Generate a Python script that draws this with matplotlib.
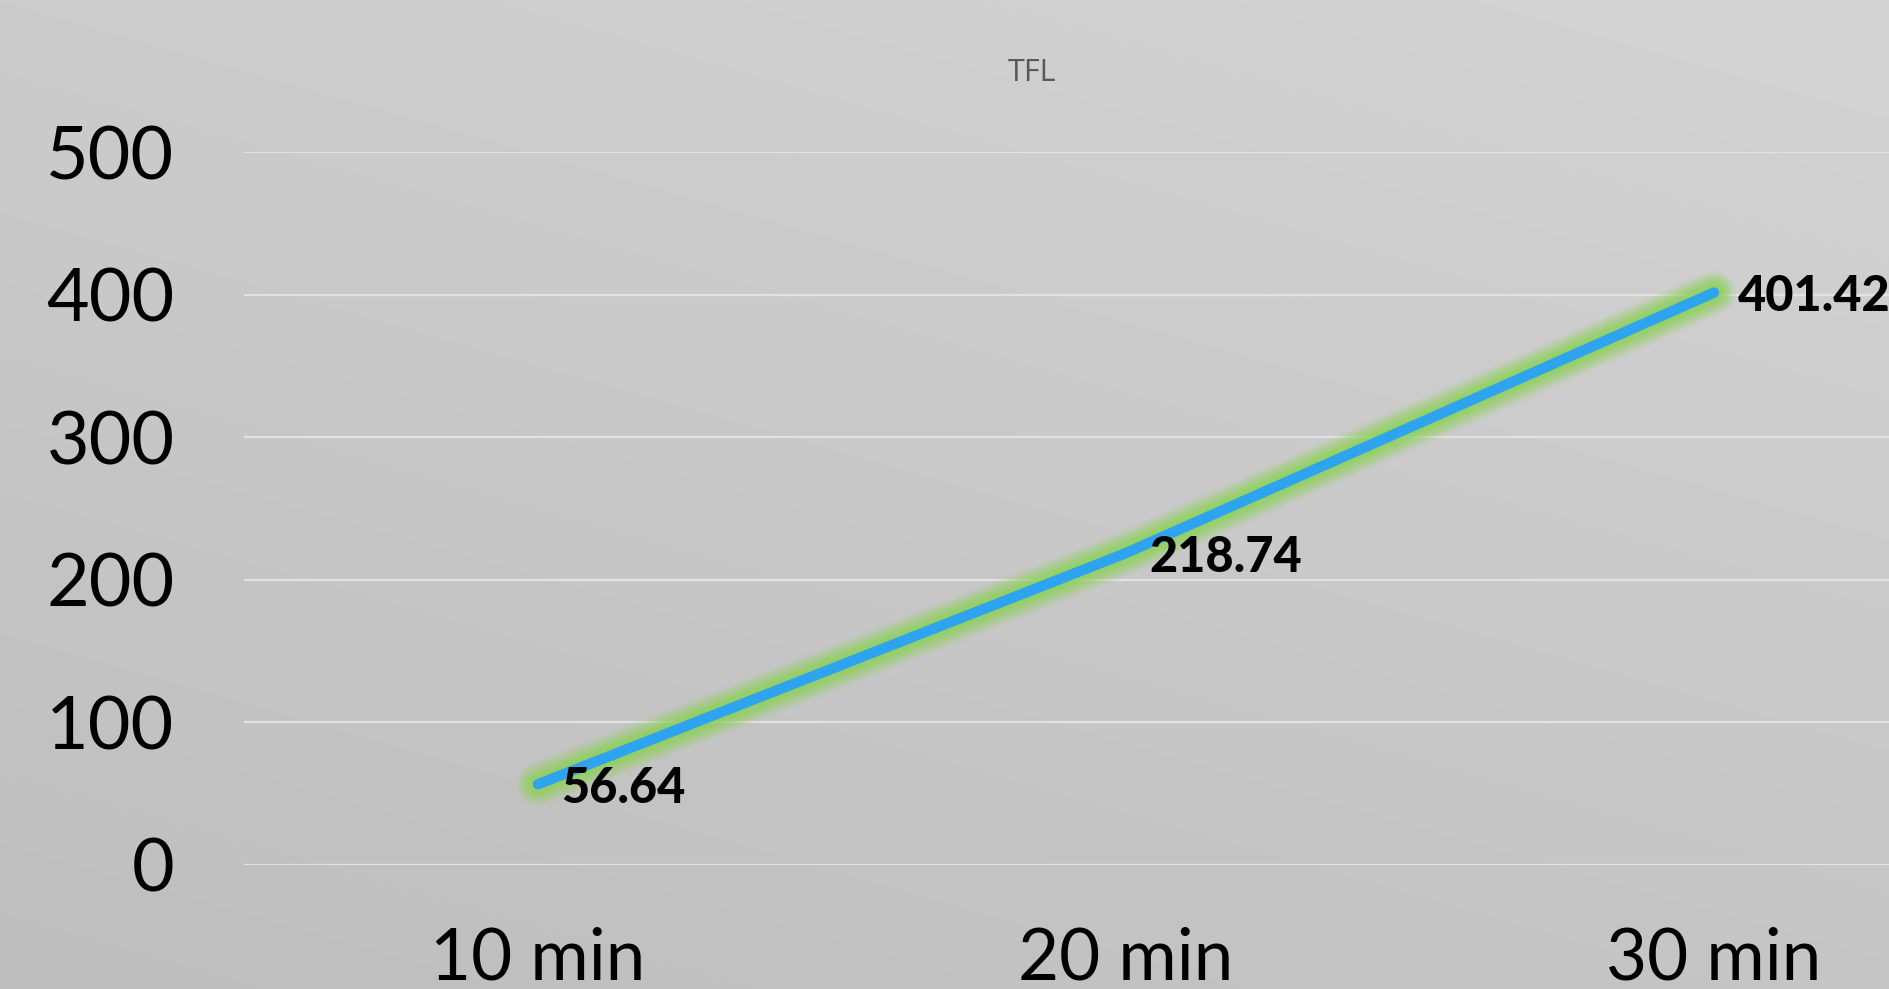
import numpy as np
import matplotlib
matplotlib.use("Agg")
import matplotlib.pyplot as plt

# Data
categories = ["10 min", "20 min", "30 min"]
values = [56.64, 218.74, 401.42]
y_ticks = [0, 100, 200, 300, 400, 500]
title = "TFL"

W, H, DPI = 1889, 989, 100
fig = plt.figure(figsize=(W / DPI, H / DPI), dpi=DPI)

# Soft gray gradient backdrop (lighter toward the top right)
bg = fig.add_axes([0, 0, 1, 1], zorder=-10)
yy, xx = np.mgrid[0:1:200j, 0:1:400j]
shade = 0.745 + 0.055 * (1 - yy) + 0.03 * xx
bg.imshow(np.dstack([shade] * 3), aspect="auto", extent=[0, 1, 0, 1],
          origin="upper", interpolation="bilinear")
bg.set_axis_off()

left = 244 / W
bottom = (H - 865) / H
top = (H - 152) / H
width = (2008 - 244) / W
ax = fig.add_axes([left, bottom, width, top - bottom])
ax.set_facecolor("none")
for s in ax.spines.values():
    s.set_visible(False)

x = np.arange(len(categories))
ax.set_xlim(-0.5, len(categories) - 0.5)
ax.set_ylim(0, 500)

ax.set_yticks(y_ticks)
ax.set_yticklabels([str(t) for t in y_ticks])
ax.set_xticks(x)
ax.set_xticklabels(categories)
ax.tick_params(axis="y", length=0, pad=50, labelsize=53, labelcolor="black")
ax.tick_params(axis="x", length=0, pad=44, labelsize=51, labelcolor="black")
for lab in ax.get_xticklabels() + ax.get_yticklabels():
    lab.set_fontfamily("Lato")

ax.grid(axis="y", color="#e2e2e2", linewidth=1.6)
ax.set_axisbelow(True)

# Green glow beneath the line
for w, a in zip(np.linspace(32, 9, 10), np.linspace(0.08, 0.32, 10)):
    ax.plot(x, values, color="#8fd35a", linewidth=w, alpha=a,
            solid_capstyle="round", solid_joinstyle="round", zorder=3)
ax.plot(x, values, color="#2ea3f0", linewidth=7.5,
        solid_capstyle="round", solid_joinstyle="round", zorder=4)

for xi, v in zip(x, values):
    ax.annotate(f"{v:.2f}", (xi, v), xytext=(17, -3), textcoords="offset points",
                ha="left", va="center", fontsize=35, fontweight="black",
                fontfamily="Lato", color="black", zorder=5,
                annotation_clip=False)

fig.text(1032 / W, 1 - 73 / H, title, ha="center", va="center",
         fontsize=22, color="#595959", fontfamily="Open Sans")

fig.savefig("out.png", dpi=DPI)
